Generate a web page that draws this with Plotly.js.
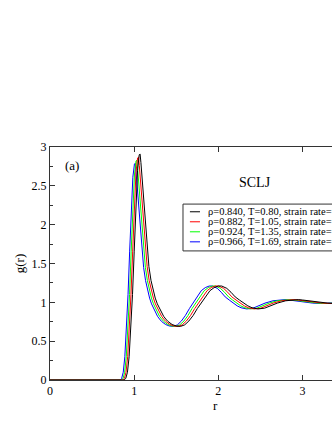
<!DOCTYPE html>
<html>
<head>
<meta charset="utf-8">
<script src="https://cdn.plot.ly/plotly-3.0.1.min.js"></script>
<style>
  html, body { margin: 0; padding: 0; overflow: hidden; background: #fff; }
  #chart { width: 380px; height: 430px; }
</style>
</head>
<body>
<div id="chart"></div>
<script>
// g(r) for four state points
const rBlack = [0, 0.88, 0.90, 0.92, 0.94, 0.96, 0.98, 1.00, 1.02, 1.04, 1.06, 1.07, 1.08, 1.10, 1.125, 1.15, 1.175, 1.20, 1.225, 1.25, 1.275, 1.30, 1.325, 1.35, 1.375, 1.40, 1.45, 1.50, 1.55, 1.60, 1.65, 1.70, 1.75, 1.80, 1.85, 1.90, 1.95, 2.00, 2.04, 2.10, 2.15, 2.20, 2.25, 2.30, 2.35, 2.40, 2.47, 2.55, 2.60, 2.70, 2.80, 2.90, 2.95, 3.00, 3.10, 3.20, 3.30, 3.40, 3.50, 4.00];
const rRed = [0, 0.864, 0.884, 0.903, 0.923, 0.943, 0.962, 0.982, 1.002, 1.021, 1.041, 1.051, 1.061, 1.080, 1.105, 1.129, 1.154, 1.178, 1.203, 1.228, 1.252, 1.277, 1.301, 1.326, 1.350, 1.375, 1.424, 1.473, 1.522, 1.571, 1.620, 1.669, 1.719, 1.768, 1.817, 1.866, 1.915, 1.964, 2.003, 2.062, 2.111, 2.160, 2.210, 2.259, 2.308, 2.357, 2.426, 2.504, 2.553, 2.651, 2.750, 2.848, 2.897, 2.946, 3.044, 3.142, 3.241, 3.339, 3.437, 4.00];
const rGreen = [0, 0.848, 0.868, 0.887, 0.906, 0.925, 0.945, 0.964, 0.983, 1.003, 1.022, 1.031, 1.041, 1.060, 1.085, 1.109, 1.133, 1.157, 1.181, 1.205, 1.229, 1.253, 1.277, 1.301, 1.326, 1.350, 1.398, 1.446, 1.494, 1.542, 1.591, 1.639, 1.687, 1.735, 1.783, 1.832, 1.880, 1.928, 1.967, 2.024, 2.073, 2.121, 2.169, 2.217, 2.265, 2.314, 2.381, 2.458, 2.506, 2.603, 2.699, 2.796, 2.844, 2.892, 2.988, 3.085, 3.181, 3.278, 3.374, 4.00];
const rBlue = [0, 0.832, 0.851, 0.870, 0.889, 0.908, 0.927, 0.946, 0.965, 0.984, 1.003, 1.012, 1.022, 1.041, 1.064, 1.088, 1.112, 1.135, 1.159, 1.183, 1.206, 1.230, 1.253, 1.277, 1.301, 1.324, 1.372, 1.419, 1.466, 1.514, 1.561, 1.608, 1.656, 1.703, 1.750, 1.797, 1.845, 1.892, 1.930, 1.987, 2.034, 2.081, 2.129, 2.176, 2.223, 2.270, 2.337, 2.412, 2.460, 2.554, 2.649, 2.743, 2.791, 2.838, 2.933, 3.027, 3.122, 3.216, 3.311, 4.00];

const gBlack = [0, 0, 0.02, 0.10, 0.30, 0.65, 1.10, 1.65, 2.25, 2.70, 2.90, 2.91, 2.80, 2.52, 2.10, 1.74, 1.46, 1.28, 1.15, 1.055, 0.98, 0.92, 0.87, 0.82, 0.785, 0.755, 0.715, 0.695, 0.69, 0.71, 0.76, 0.83, 0.92, 1.00, 1.08, 1.15, 1.19, 1.21, 1.21, 1.18, 1.13, 1.07, 1.03, 0.99, 0.955, 0.93, 0.915, 0.925, 0.95, 0.99, 1.02, 1.035, 1.035, 1.03, 1.015, 1.00, 0.99, 0.985, 0.99, 1.00];
const gRed = [0, 0, 0.02, 0.10, 0.30, 0.65, 1.10, 1.65, 2.24, 2.67, 2.86, 2.87, 2.76, 2.49, 2.09, 1.73, 1.46, 1.28, 1.15, 1.055, 0.98, 0.92, 0.87, 0.82, 0.785, 0.755, 0.715, 0.695, 0.69, 0.71, 0.76, 0.83, 0.92, 1.00, 1.08, 1.15, 1.19, 1.21, 1.21, 1.18, 1.13, 1.07, 1.03, 0.99, 0.955, 0.93, 0.915, 0.925, 0.95, 0.99, 1.02, 1.035, 1.035, 1.03, 1.015, 1.00, 0.99, 0.985, 0.99, 1.00];
const gGreen = [0, 0, 0.02, 0.10, 0.30, 0.65, 1.10, 1.65, 2.23, 2.64, 2.82, 2.83, 2.72, 2.46, 2.08, 1.73, 1.45, 1.28, 1.15, 1.055, 0.98, 0.92, 0.87, 0.82, 0.785, 0.755, 0.715, 0.695, 0.69, 0.71, 0.76, 0.83, 0.92, 1.00, 1.08, 1.15, 1.19, 1.21, 1.21, 1.18, 1.13, 1.07, 1.03, 0.99, 0.955, 0.93, 0.915, 0.925, 0.95, 0.99, 1.02, 1.035, 1.035, 1.03, 1.015, 1.00, 0.99, 0.985, 0.99, 1.00];
const gBlue = [0, 0, 0.02, 0.10, 0.30, 0.65, 1.10, 1.65, 2.22, 2.61, 2.78, 2.79, 2.68, 2.43, 2.07, 1.72, 1.45, 1.28, 1.15, 1.055, 0.98, 0.92, 0.87, 0.82, 0.785, 0.755, 0.715, 0.695, 0.69, 0.71, 0.76, 0.83, 0.92, 1.00, 1.08, 1.15, 1.19, 1.21, 1.21, 1.18, 1.13, 1.07, 1.03, 0.99, 0.955, 0.93, 0.915, 0.925, 0.95, 0.99, 1.02, 1.035, 1.035, 1.03, 1.015, 1.00, 0.99, 0.985, 0.99, 1.00];

const seriesNames = [
    'ρ=0.840, T=0.80, strain rate=',
    'ρ=0.882, T=1.05, strain rate=',
    'ρ=0.924, T=1.35, strain rate=',
    'ρ=0.966, T=1.69, strain rate='
];
const seriesColors = ['#000000', '#ff0000', '#00ff00', '#0000ff'];
const rSets = [rBlack, rRed, rGreen, rBlue];
const gSets = [gBlack, gRed, gGreen, gBlue];

const xTickVals = [0, 1, 2, 3];
const yTickVals = [0, 0.5, 1, 1.5, 2, 2.5, 3];
const yTickText = ['0', '0.5', '1', '1.5', '2', '2.5', '3'];

const serif = '"Liberation Serif", "Times New Roman", Times, serif';

// draw black last so it sits on top like the original
const order = [3, 2, 1, 0];
const data = order.map(i => ({
    x: rSets[i],
    y: gSets[i],
    type: 'scatter',
    mode: 'lines',
    line: { color: seriesColors[i], width: 1 },
    name: seriesNames[i],
    hoverinfo: 'skip'
}));

// hand-made legend box (the original is cut at the right edge)
const legendTop = 0.755, legendBottom = 0.554;
const rowY = [0.722, 0.679, 0.636, 0.593];
const shapes = [{
    type: 'rect', xref: 'paper', yref: 'paper',
    x0: 0.403, x1: 1.2, y0: legendBottom, y1: legendTop,
    line: { color: '#333', width: 1 }, fillcolor: 'rgba(255,255,255,1)', layer: 'above'
}];
const annotations = [
    { text: '(a)', xref: 'paper', yref: 'paper', x: 0.066, y: 0.919, xanchor: 'center', yanchor: 'middle', showarrow: false, font: { family: serif, size: 13, color: '#000' } },
    { text: 'SCLJ', xref: 'paper', yref: 'paper', x: 0.621, y: 0.848, xanchor: 'center', yanchor: 'middle', showarrow: false, font: { family: serif, size: 14, color: '#000' } },
    // x-axis title, placed close under the tick labels as in the original
    { text: 'r', xref: 'paper', yref: 'paper', x: 0.5, y: 0, yshift: -16, xanchor: 'center', yanchor: 'top', showarrow: false, font: { family: serif, size: 13, color: '#000' } }
];
seriesNames.forEach((name, i) => {
    shapes.push({
        type: 'line', xref: 'paper', yref: 'paper',
        x0: 0.424, x1: 0.4545, y0: rowY[i], y1: rowY[i],
        line: { color: seriesColors[i], width: 1 }, layer: 'above'
    });
    annotations.push({
        text: name, xref: 'paper', yref: 'paper', x: 0.473, y: rowY[i],
        xanchor: 'left', yanchor: 'middle', showarrow: false,
        font: { family: serif, size: 10.5, color: '#000' }
    });
});

const layout = {
    width: 380,
    height: 430,
    margin: { l: 50, r: 0, t: 147, b: 50 },
    paper_bgcolor: '#ffffff',
    plot_bgcolor: '#ffffff',
    showlegend: false,
    font: { family: serif, size: 12, color: '#000' },
    xaxis: {
        range: [0, 3.92],
        tickvals: xTickVals,
        ticktext: xTickVals.map(String),
        ticks: 'inside', ticklen: 5, tickcolor: '#333',
        showline: true, linecolor: '#333', linewidth: 1, mirror: 'ticks',
        showgrid: false, zeroline: false,
        tickfont: { family: serif, size: 12 }
    },
    yaxis: {
        range: [0, 3],
        tickvals: yTickVals,
        ticktext: yTickText,
        ticks: 'inside', ticklen: 5, tickcolor: '#333',
        minor: { dtick: 0.25, ticks: 'inside', ticklen: 3, tickcolor: '#333' },
        showline: true, linecolor: '#333', linewidth: 1, mirror: true,
        showgrid: false, zeroline: false,
        tickfont: { family: serif, size: 12 },
        title: { text: 'g(r)', font: { family: serif, size: 13 }, standoff: 4 }
    },
    shapes: shapes,
    annotations: annotations
};

Plotly.newPlot('chart', data, layout, { displayModeBar: false, staticPlot: true });
</script>
</body>
</html>
